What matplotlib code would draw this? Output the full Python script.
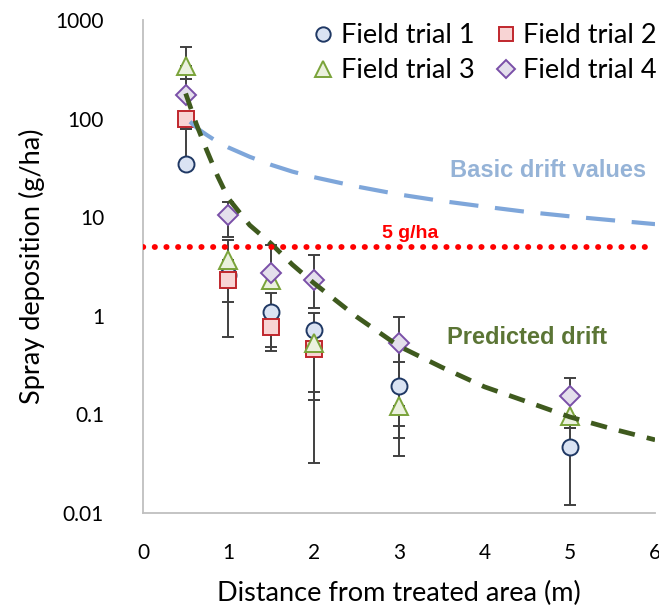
import numpy as np
import matplotlib
matplotlib.use("Agg")
import matplotlib.pyplot as plt

# ---- data ----
distances = [0.5, 1, 1.5, 2, 3, 5]

trial1 = [35, 2.6, 1.1, 0.72, 0.195, 0.047]
trial1_lo = [np.nan, 0.61, 0.48, 0.14, 0.058, 0.012]
trial1_hi = [78, np.nan, 1.7, 1.07, 0.34, 0.073]

trial2 = [100, 2.3, 0.76, 0.46, np.nan, np.nan]
trial2_lo = [78, 1.38, 0.44, 0.032, np.nan, np.nan]
trial2_hi = [np.nan, np.nan, np.nan, np.nan, np.nan, np.nan]

trial3 = [340, 3.7, 2.3, 0.53, 0.12, 0.095]
trial3_lo = [250, 1.9, np.nan, 0.17, 0.038, 0.073]
trial3_hi = [535, 5.9, np.nan, np.nan, np.nan, np.nan]

trial4 = [175, 10.5, 2.7, 2.3, 0.53, 0.154]
trial4_lo = [np.nan, 6.3, np.nan, 1.2, 0.076, np.nan]
trial4_hi = [250, 14.1, 5.2, 4.1, 0.97, 0.234]

pred_x = [0.5, 0.625, 0.75, 0.875, 1, 1.25, 1.5, 1.75, 2, 2.5, 3, 3.5, 4, 4.5, 5, 5.5, 6]
pred_y = [180, 88, 47, 26, 15.5, 8.3, 5.4, 3.3, 2.15, 0.98, 0.49, 0.3, 0.19, 0.134, 0.094, 0.071, 0.055]

basic_x = [0.55, 0.65, 0.75, 0.875, 1, 1.25, 1.5, 1.75, 2, 2.5, 3, 3.5, 4, 4.5, 5, 5.5, 6]
basic_y = [93, 78, 68, 58, 51, 41, 34, 29, 25.5, 20.5, 17, 14.6, 12.8, 11.3, 10.2, 9.3, 8.5]

threshold = 5

series = [
    ("Field trial 1", trial1, trial1_lo, trial1_hi, "o", "#dae3f3", "#1f3864"),
    ("Field trial 2", trial2, trial2_lo, trial2_hi, "s", "#f8d4d4", "#c0272d"),
    ("Field trial 3", trial3, trial3_lo, trial3_hi, "^", "#ebf1de", "#7aa33a"),
    ("Field trial 4", trial4, trial4_lo, trial4_hi, "D", "#e4dfec", "#7a4fa8"),
]

plt.rcParams['font.family'] = ['Lato', 'DejaVu Sans']

fig = plt.figure(figsize=(6.59, 6.09), dpi=100)
ax = fig.add_axes([0.217, 0.158, 0.777, 0.809])

ax.set_yscale('log')
ax.set_xlim(0, 6)
ax.set_ylim(0.01, 1000)

# error bars
for name, y, lo, hi, m, fc, ec in series:
    y = np.array(y, float)
    lo = np.array(lo, float)
    hi = np.array(hi, float)
    for xi, yi, l, h in zip(distances, y, lo, hi):
        if not np.isnan(l):
            ax.errorbar([xi], [yi], yerr=[[yi - l], [0]], fmt='none', ecolor='#404040',
                        elinewidth=1.4, capsize=4.5, capthick=1.4, zorder=2)
        if not np.isnan(h):
            ax.errorbar([xi], [yi], yerr=[[0], [h - yi]], fmt='none', ecolor='#404040',
                        elinewidth=1.4, capsize=4.5, capthick=1.4, zorder=2)

handles = []
for name, y, lo, hi, m, fc, ec in series:
    ms = 11.5 if m != "D" else 10
    if m == "^":
        ms = 12.5
    h, = ax.plot(distances, y, linestyle='none', marker=m, markersize=ms,
                 markerfacecolor=fc, markeredgecolor=ec, markeredgewidth=1.4,
                 label=name, zorder=4)
    handles.append(h)

ax.plot(basic_x, basic_y, color='#7ea6da', lw=3.0, linestyle=(0, (7, 4)),
        zorder=5)
ax.plot(pred_x, pred_y, color='#3f5a1e', lw=3.4, linestyle=(0, (3.5, 2.6)),
        zorder=6)
ax.plot([0, 6], [threshold, threshold], color='#ff0000', lw=4.2,
        linestyle=(0, (0.05, 1.95)), dash_capstyle='round', zorder=6)

ax.text(4.75, 30, "Basic drift values", color='#95b3d7', fontsize=17,
        fontweight='bold', family='Liberation Sans', ha='center', va='center')
ax.text(3.13, 6.9, "5 g/ha", color='#ff0000', fontsize=14,
        fontweight='bold', family='Liberation Sans', ha='center', va='center')
ax.text(4.5, 0.6, "Predicted drift", color='#5b7535', fontsize=17,
        fontweight='bold', family='Liberation Sans', ha='center', va='center')

for s in ['top', 'right']:
    ax.spines[s].set_visible(False)
for s in ['left', 'bottom']:
    ax.spines[s].set_color('#bfbfbf')
    ax.spines[s].set_linewidth(1.3)

ax.set_xticks([0, 1, 2, 3, 4, 5, 6])
ax.set_xticklabels(['0', '1', '2', '3', '4', '5', '6'])
ax.set_yticks([0.01, 0.1, 1, 10, 100, 1000])
ax.set_yticklabels(['0.01', '0.1', '1', '10', '100', '1000'])
ax.minorticks_off()
ax.tick_params(axis='both', length=0, labelsize=15, colors='#000000')
ax.tick_params(axis='y', pad=28)
ax.tick_params(axis='x', pad=22)

ax.set_xlabel("Distance from treated area (m)", fontsize=19.5, labelpad=12.5)
ax.set_ylabel("Spray deposition (g/ha)", fontsize=19.5, labelpad=8)

order = [0, 2, 1, 3]
fig.legend(handles=[handles[i] for i in order], ncol=2, loc='upper right',
           bbox_to_anchor=(0.997, 0.962), frameon=False, fontsize=19.5,
           handletextpad=0.2, columnspacing=0.7, borderaxespad=0.0,
           borderpad=0.0, handlelength=0.9, labelspacing=0.38, markerscale=0.9)

fig.savefig("out.png", dpi=100)
